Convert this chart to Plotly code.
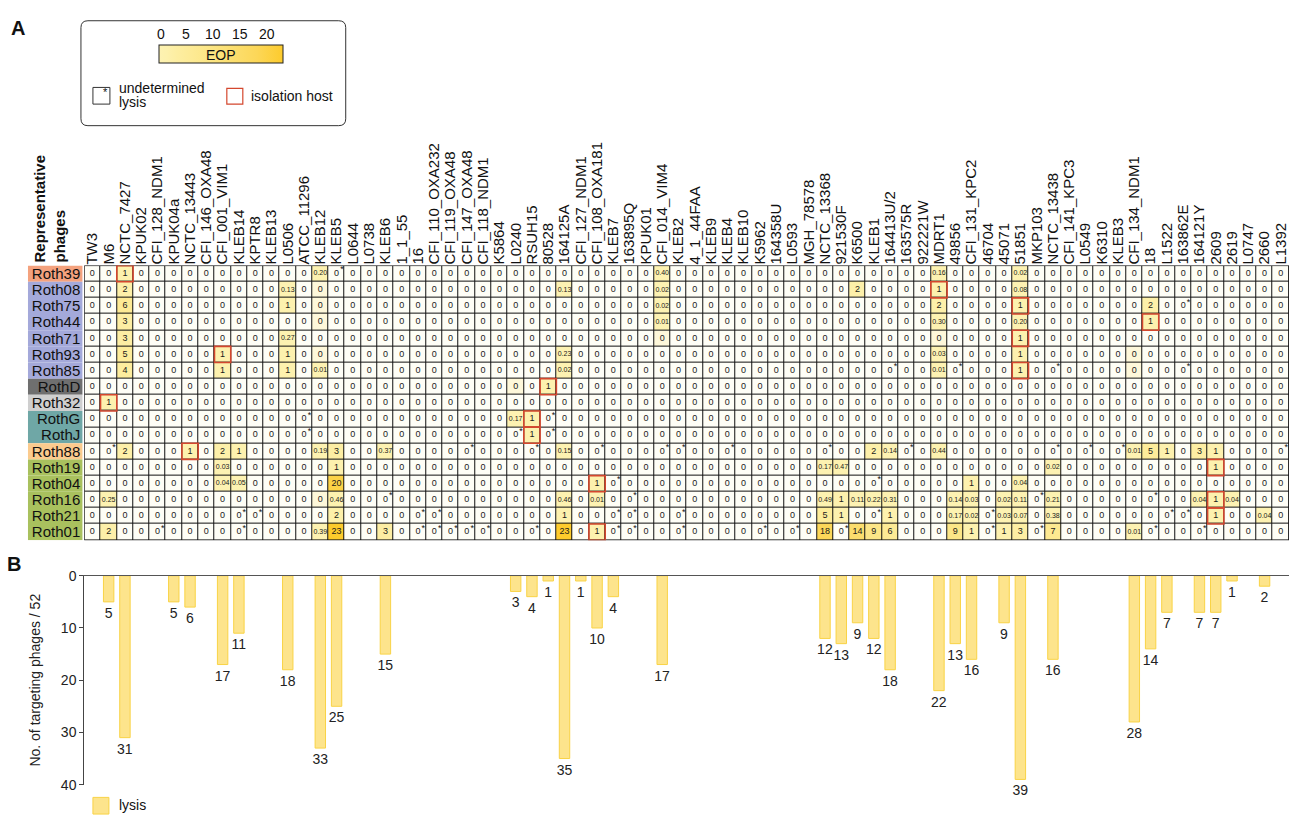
import plotly.graph_objects as go

W, H = 1291, 825
FONT = "Liberation Sans, Arial, sans-serif"

# ---------------- data ----------------
strains = ["TW3", "M6", "NCTC_7427", "KPUK02", "CFI_128_NDM1", "KPUK04a", "NCTC_13443",
           "CFI_146_OXA48", "CFI_001_VIM1", "KLEB14", "KPTR8", "KLEB13", "L0506", "ATCC_11296",
           "KLEB12", "KLEB5", "L0644", "L0738", "KLEB6", "1_1_55", "16", "CFI_110_OXA232",
           "CFI_119_OXA48", "CFI_147_OXA48", "CFI_118_NDM1", "K5864", "L0240", "RSUH15", "80528",
           "164125A", "CFI_127_NDM1", "CFI_108_OXA181", "KLEB7", "163895Q", "KPUK01",
           "CFI_014_VIM4", "KLEB2", "4_1_44FAA", "KLEB9", "KLEB4", "KLEB10", "K5962", "164358U",
           "L0593", "MGH_78578", "NCTC_13368", "921530F", "K6500", "KLEB1", "164413U/2",
           "163575R", "922221W", "MDRT1", "49856", "CFI_131_KPC2", "46704", "45071", "51851",
           "MKP103", "NCTC_13438", "CFI_141_KPC3", "L0549", "K6310", "KLEB3", "CFI_134_NDM1",
           "18", "L1522", "163862E", "164121Y", "2609", "2619", "L0747", "2660", "L1392"]

phages = ["Roth39", "Roth08", "Roth75", "Roth44", "Roth71", "Roth93", "Roth85", "RothD",
          "Roth32", "RothG", "RothJ", "Roth88", "Roth19", "Roth04", "Roth16", "Roth21", "Roth01"]
phage_colors = ["#F4A27E", "#A4A9DA", "#A4A9DA", "#A4A9DA", "#A4A9DA", "#A4A9DA", "#A4A9DA",
                "#6F6F6F", "#CFCFCF", "#6FA7A6", "#6FA7A6", "#FBCB8E", "#A9C15E", "#A9C15E",
                "#A9C15E", "#A9C15E", "#A9C15E"]

TRACE = 0.001  # lysis with EOP below display precision (printed as 0)

eop_Roth39 = {"NCTC_7427": 1, "KLEB12": 0.20, "CFI_014_VIM4": 0.40, "MDRT1": 0.16, "51851": 0.02}
eop_Roth08 = {"NCTC_7427": 2, "L0506": 0.13, "KLEB12": TRACE, "164125A": 0.13, "CFI_014_VIM4": 0.02,
              "K6500": 2, "MDRT1": 1, "51851": 0.08}
eop_Roth75 = {"NCTC_7427": 6, "L0506": 1, "KLEB12": TRACE, "CFI_014_VIM4": 0.02, "MDRT1": 2,
              "51851": 1, "18": 2}
eop_Roth44 = {"NCTC_7427": 3, "KLEB12": TRACE, "CFI_014_VIM4": 0.01, "MDRT1": 0.30, "51851": 0.20, "18": 1}
eop_Roth71 = {"NCTC_7427": 3, "L0506": 0.27, "CFI_014_VIM4": TRACE, "MDRT1": TRACE, "51851": 1}
eop_Roth93 = {"NCTC_7427": 5, "CFI_001_VIM1": 1, "L0506": 1, "KLEB12": TRACE, "164125A": 0.23,
              "MDRT1": 0.03, "51851": 1, "CFI_134_NDM1": TRACE}
eop_Roth85 = {"NCTC_7427": 4, "CFI_001_VIM1": 1, "L0506": 1, "KLEB12": 0.01, "164125A": 0.02,
              "MDRT1": 0.01, "51851": 1, "CFI_134_NDM1": TRACE}
eop_RothD = {"L0240": TRACE, "80528": 1}
eop_Roth32 = {"M6": 1}
eop_RothG = {"L0240": 0.17, "RSUH15": 1}
eop_RothJ = {"RSUH15": 1}
eop_Roth88 = {"NCTC_7427": 2, "NCTC_13443": 1, "CFI_001_VIM1": 2, "KLEB14": 1, "KLEB12": 0.19,
              "KLEB5": 3, "KLEB6": 0.37, "164125A": 0.15, "KLEB1": 2, "164413U/2": 0.14,
              "MDRT1": 0.44, "CFI_134_NDM1": 0.01, "18": 5, "L1522": 1, "164121Y": 3, "2609": 1}
eop_Roth19 = {"CFI_001_VIM1": 0.03, "KLEB5": 1, "NCTC_13368": 0.17, "921530F": 0.47,
              "NCTC_13438": 0.02, "2609": 1}
eop_Roth04 = {"CFI_001_VIM1": 0.04, "KLEB14": 0.05, "KLEB5": 20, "CFI_108_OXA181": 1,
              "CFI_131_KPC2": 1, "51851": 0.04}
eop_Roth16 = {"M6": 0.25, "KLEB12": TRACE, "KLEB5": 0.46, "164125A": 0.46, "CFI_108_OXA181": 0.01,
              "NCTC_13368": 0.49, "921530F": 1, "K6500": 0.11, "KLEB1": 0.22, "164413U/2": 0.31,
              "49856": 0.14, "CFI_131_KPC2": 0.03, "45071": 0.02, "51851": 0.11, "NCTC_13438": 0.21,
              "164121Y": 0.04, "2609": 1, "2619": 0.04}
eop_Roth21 = {"KLEB5": 2, "164125A": 1, "NCTC_13368": 5, "921530F": 1, "164413U/2": 1,
              "49856": 0.17, "CFI_131_KPC2": 0.02, "45071": 0.03, "51851": 0.07,
              "NCTC_13438": 0.38, "2609": 1, "2660": 0.04}
eop_Roth01 = {"M6": 2, "KLEB12": 0.39, "KLEB5": 23, "KLEB6": 3, "164125A": 23, "CFI_108_OXA181": 1,
              "NCTC_13368": 18, "K6500": 14, "KLEB1": 9, "164413U/2": 6, "49856": 9,
              "CFI_131_KPC2": 1, "45071": 1, "51851": 3, "NCTC_13438": 7, "CFI_134_NDM1": 0.01}

und_Roth39 = ["KLEB5"]
und_Roth75 = ["163862E"]
und_Roth85 = ["164413U/2", "49856", "NCTC_13438", "163862E"]
und_RothG = ["ATCC_11296", "80528"]
und_RothJ = ["ATCC_11296", "L0240", "80528"]
und_Roth88 = ["M6", "CFI_147_OXA48", "RSUH15", "CFI_108_OXA181", "CFI_014_VIM4", "KLEB2", "KLEB4",
              "NCTC_13368", "163575R", "NCTC_13438", "L0549", "KLEB3", "L1392"]
und_Roth04 = ["KLEB7", "KLEB1"]
und_Roth16 = ["KLEB6", "163895Q", "MKP103", "18"]
und_Roth21 = ["KLEB14", "KPTR8", "16", "CFI_110_OXA232", "KLEB7", "163895Q", "KLEB2", "KLEB1",
              "46704", "L1522", "163862E"]
und_Roth01 = ["CFI_128_NDM1", "KLEB14", "16", "CFI_110_OXA232", "CFI_119_OXA48", "CFI_147_OXA48",
              "CFI_118_NDM1", "RSUH15", "KLEB7", "163895Q", "KLEB2", "K5962", "L0593", "921530F",
              "46704", "MKP103", "18", "164121Y"]

isolation_host = ["NCTC_7427", "MDRT1", "51851", "18", "51851", "CFI_001_VIM1", "51851", "80528",
                  "M6", "RSUH15", "RSUH15", "NCTC_13443", "2609", "CFI_108_OXA181", "2609", "2609",
                  "CFI_108_OXA181"]

bar_strains = ["M6", "NCTC_7427", "KPUK04a", "NCTC_13443", "CFI_001_VIM1", "KLEB14", "L0506",
               "KLEB12", "KLEB5", "KLEB6", "L0240", "RSUH15", "80528", "164125A", "CFI_127_NDM1",
               "CFI_108_OXA181", "KLEB7", "CFI_014_VIM4", "NCTC_13368", "921530F", "K6500", "KLEB1",
               "164413U/2", "MDRT1", "49856", "CFI_131_KPC2", "45071", "51851", "NCTC_13438",
               "CFI_134_NDM1", "18", "L1522", "164121Y", "2609", "2619", "2660"]
bar_counts = [5, 31, 5, 6, 17, 11, 18, 33, 25, 15, 3, 4, 1, 35, 1, 10, 4, 17, 12, 13, 9, 12, 18,
              22, 13, 16, 9, 39, 16, 28, 14, 7, 7, 7, 1, 2]

eop_rows = [eop_Roth39, eop_Roth08, eop_Roth75, eop_Roth44, eop_Roth71, eop_Roth93, eop_Roth85,
            eop_RothD, eop_Roth32, eop_RothG, eop_RothJ, eop_Roth88, eop_Roth19, eop_Roth04,
            eop_Roth16, eop_Roth21, eop_Roth01]
und_rows = [und_Roth39, [], und_Roth75, [], [], [], und_Roth85, [], [], und_RothG, und_RothJ,
            und_Roth88, [], und_Roth04, und_Roth16, und_Roth21, und_Roth01]

# ---------------- helpers ----------------
def px(x):
    return x / W


def py(y):
    return 1 - y / H


NC, NR = len(strains), len(phages)
Z = [[row.get(s, 0) for s in strains] for row in eop_rows]


def fmt(v):
    if v < 0.005:
        return "0"
    if v < 1:
        return f"{v:.2f}"
    return f"{v:g}"


int_x, int_y, int_t, dec_x, dec_y, dec_t = [], [], [], [], [], []
for r in range(NR):
    for c in range(NC):
        v = Z[r][c]
        if 0.005 <= v < 1:
            dec_x.append(c); dec_y.append(r); dec_t.append(fmt(v))
        else:
            int_x.append(c); int_y.append(r); int_t.append(fmt(v))

ast_x, ast_y = [], []
for r, lst in enumerate(und_rows):
    for s in lst:
        ast_x.append(strains.index(s) + 0.33)
        ast_y.append(r - 0.22)

colorscale = [
    [0.0, "#FEFEF6"], [0.00002, "#FEFEF6"],
    [0.00003, "#FEF8DA"], [0.0003, "#FEF8DA"],
    [0.0004, "#FDF2B2"], [0.06, "#FDF1AD"],
    [0.14, "#FDEEA2"], [0.27, "#FDEA94"], [0.40, "#FCE686"],
    [0.61, "#FCDE6D"], [0.79, "#FCD758"], [1.0, "#FDCB2C"],
]

HX0, HX1, HY0, HY1 = 83.3, 1289.0, 262.7, 542.7   # heatmap pixel box
BY0, BY1 = 579.0, 792.0                             # bar axis 0 .. 40

fig = go.Figure()

fig.add_trace(go.Heatmap(
    z=Z, x=list(range(NC)), y=list(range(NR)), zmin=0, zmax=23,
    colorscale=colorscale, xgap=1, ygap=1, hoverinfo="skip",
    colorbar=dict(orientation="h", x=px(158), xanchor="left", y=py(38), yanchor="top",
                  len=124, lenmode="pixels", thickness=18, thicknessmode="pixels",
                  outlinewidth=1, outlinecolor="#222", showticklabels=False, ticks="",
                  xpad=0, ypad=0),
))

fig.add_trace(go.Scatter(x=int_x, y=int_y, text=int_t, mode="text",
                         textfont=dict(size=9, color="#1a1a1a", family=FONT),
                         hoverinfo="skip", showlegend=False))
fig.add_trace(go.Scatter(x=dec_x, y=dec_y, text=dec_t, mode="text",
                         textfont=dict(size=7, color="#1a1a1a", family=FONT),
                         hoverinfo="skip", showlegend=False))
fig.add_trace(go.Scatter(x=ast_x, y=ast_y, text=["*"] * len(ast_x), mode="text",
                         textfont=dict(size=9, color="#111", family=FONT),
                         hoverinfo="skip", showlegend=False))

fig.add_trace(go.Bar(
    x=[strains.index(s) for s in bar_strains], y=bar_counts, xaxis="x2", yaxis="y2",
    width=0.64, marker=dict(color="#FDE48C", line=dict(color="#F9D346", width=1)),
    text=[str(v) for v in bar_counts], textposition="outside", cliponaxis=False,
    constraintext="none",
    textfont=dict(size=14, color="#222", family=FONT), name="lysis", showlegend=False,
    hoverinfo="skip",
))

shapes = []
# dark background behind heatmap cells -> grid lines through the cell gaps
shapes.append(dict(type="rect", xref="x", yref="y", x0=-0.5, x1=NC - 0.5, y0=-0.5, y1=NR - 0.5,
                   fillcolor="#111", line=dict(width=0), layer="below"))
# row label backgrounds
for r, col in enumerate(phage_colors):
    shapes.append(dict(type="rect", xref="paper", yref="y", x0=px(27), x1=px(81.5),
                       y0=r - 0.5, y1=r + 0.5, fillcolor=col, line=dict(width=0), layer="below"))
# heatmap outer border
shapes.append(dict(type="rect", xref="x", yref="y", x0=-0.5, x1=NC - 0.5, y0=-0.5, y1=NR - 0.5,
                   line=dict(color="#111", width=1)))
# isolation host borders
for r, s in enumerate(isolation_host):
    c = strains.index(s)
    shapes.append(dict(type="rect", xref="x", yref="y", x0=c - 0.5, x1=c + 0.5,
                       y0=r - 0.5, y1=r + 0.5, line=dict(color="#D4472E", width=1.6)))

# legend box (rounded)
x0, x1, y0, y1, rr = 80, 345, 13, 120, 7


def P(x, y):
    return f"{px(x):.5f},{py(y):.5f}"


path = (f"M {P(x0 + rr, y0)} L {P(x1 - rr, y0)} Q {P(x1, y0)} {P(x1, y0 + rr)} "
        f"L {P(x1, y1 - rr)} Q {P(x1, y1)} {P(x1 - rr, y1)} L {P(x0 + rr, y1)} "
        f"Q {P(x0, y1)} {P(x0, y1 - rr)} L {P(x0, y0 + rr)} Q {P(x0, y0)} {P(x0 + rr, y0)} Z")
shapes.append(dict(type="path", xref="paper", yref="paper", path=path,
                   line=dict(color="#333", width=1)))
# colorbar tick marks
for v in [5, 10, 15, 20]:
    xx = 158 + v * 124 / 23
    shapes.append(dict(type="line", xref="paper", yref="paper", x0=px(xx), x1=px(xx),
                       y0=py(38.5), y1=py(41.5), line=dict(color="#222", width=1)))
# undetermined lysis / isolation host symbols
shapes.append(dict(type="rect", xref="paper", yref="paper", x0=px(92), x1=px(109), y0=py(81),
                   y1=py(98), line=dict(color="#333", width=1)))
shapes.append(dict(type="rect", xref="paper", yref="paper", x0=px(226), x1=px(242), y0=py(82),
                   y1=py(98), line=dict(color="#D4472E", width=1.2)))
# lysis legend
shapes.append(dict(type="rect", xref="paper", yref="paper", x0=px(92), x1=px(108), y0=py(805),
                   y1=py(822), fillcolor="#FDE48C", line=dict(color="#F9D346", width=1)))

ann = []


def A(text, x, y, size=14, xa="center", ya="middle", **kw):
    ann.append(dict(text=text, x=px(x), y=py(y), xref="paper", yref="paper", showarrow=False,
                    xanchor=xa, yanchor=ya, font=dict(size=size, color="#111", family=FONT), **kw))


A("<b>A</b>", 17, 20, size=20)
A("<b>B</b>", 13, 567, size=20)
for v in [0, 5, 10, 15, 20]:
    A(str(v), 158 + v * 124 / 23 + (2 if v == 0 else 0), 27, size=14)
A("EOP", 220, 47.5, size=14)
A("*", 105, 86, size=11)
A("undetermined", 116, 82, xa="left")
A("lysis", 116, 96, xa="left")
A("isolation host", 248, 89.5, xa="left")
A("lysis", 116, 813, xa="left")
A("<b>Representative</b><br><b>phages</b>", 48.5, 204, size=15, textangle=-90, align="left")

fig.update_layout(
    width=W, height=H, autosize=False,
    margin=dict(l=0, r=0, t=0, b=0),
    paper_bgcolor="white", plot_bgcolor="white",
    font=dict(family=FONT, color="#111"),
    shapes=shapes, annotations=ann, showlegend=False,
    xaxis=dict(domain=[px(HX0), px(HX1)], range=[-0.5, NC - 0.5], anchor="y", side="top",
               tickmode="array", tickvals=list(range(NC)), ticktext=strains, tickangle=-90,
               tickfont=dict(size=15, family=FONT, color="#111"), ticks="", showgrid=False,
               zeroline=False, showline=False),
    yaxis=dict(domain=[py(HY1), py(HY0)], range=[NR - 0.5, -0.5], anchor="x",
               tickmode="array", tickvals=list(range(NR)), ticktext=phages,
               tickfont=dict(size=15, family=FONT, color="#111"), ticks="", showgrid=False,
               zeroline=False, showline=False, ticklabelstandoff=3),
    xaxis2=dict(domain=[px(HX0), px(HX1)], range=[-0.5, NC - 0.5], anchor="y2", side="top",
                showline=True, linecolor="#555", linewidth=1.3, showticklabels=False, ticks="",
                showgrid=False, zeroline=False),
    yaxis2=dict(domain=[py(BY1), py(BY0)], range=[40, 0], anchor="x2", showline=True,
                linecolor="#444", linewidth=1, ticks="outside", ticklen=4, tickcolor="#444",
                tickvals=[0, 10, 20, 30, 40], tickfont=dict(size=14, family=FONT, color="#222"),
                showgrid=False, zeroline=False,
                title=dict(text="No. of targeting phages / 52", standoff=16,
                           font=dict(size=14, family=FONT, color="#222"))),
)

fig.write_html("out.html", config={"displayModeBar": False},
               post_script="document.body.style.margin='0px';")
